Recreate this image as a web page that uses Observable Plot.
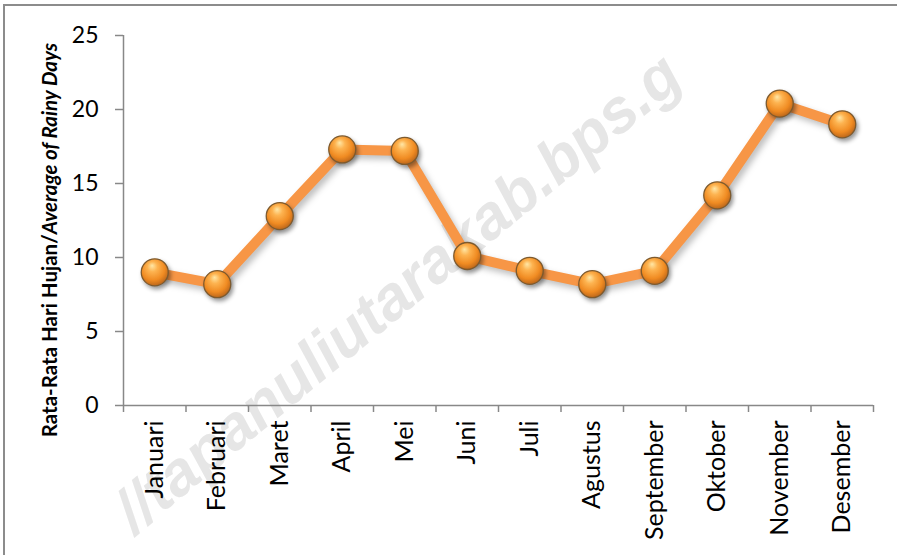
<!DOCTYPE html>
<html>
<head>
<meta charset="utf-8">
<script src="https://cdn.jsdelivr.net/npm/d3@7"></script>
<script src="https://cdn.jsdelivr.net/npm/@observablehq/plot@0.6"></script>
<style>
  html, body { margin: 0; padding: 0; background: #fff; }
  #wrap { position: relative; width: 897px; height: 555px; overflow: hidden; background: #fff; }
  #wm { position: absolute; left: 0; top: 0; }
  #border { position: absolute; left: 3px; top: 4px; width: 920px; height: 620px;
            border-top: 2px solid #8c8c8c; border-left: 2px solid #8c8c8c; box-sizing: border-box; }
  #chart { position: absolute; left: 0; top: 0; }
  .ln path { filter: drop-shadow(3px 4px 3px rgba(0,0,0,0.25)); }
  .balls { filter: drop-shadow(2px 3px 2px rgba(0,0,0,0.40)); }
</style>
</head>
<body>
<div id="wrap">
  <svg id="wm" width="897" height="555">
    <text transform="translate(400,296) rotate(-39.5)" text-anchor="middle" dominant-baseline="middle"
          font-family="'Liberation Sans', Arial, sans-serif" font-weight="bold" font-style="italic"
          font-size="62" fill="#e6e6e6">//tapanuliutarakab.bps.g</text>
  </svg>
  <div id="border"></div>
  <div id="chart"></div>
</div>
<script>
const months = ["Januari", "Februari", "Maret", "April", "Mei", "Juni", "Juli",
                "Agustus", "September", "Oktober", "November", "Desember"];
const values = [9.0, 8.2, 12.8, 17.3, 17.2, 10.1, 9.1, 8.2, 9.1, 14.2, 20.4, 19.0];
const yTicks = [0, 5, 10, 15, 20, 25];
const yTitleMain = "Rata-Rata Hari Hujan/";
const yTitleItalic = "Average of Rainy Days";

const data = months.map((m, i) => ({month: m, idx: i + 0.5, value: values[i]}));
const boundaries = d3.range(months.length + 1);

const axisGray = "#888888";

const plot = Plot.plot({
  width: 897,
  height: 555,
  marginLeft: 123,
  marginRight: 24,
  marginTop: 35,
  marginBottom: 150,
  style: {background: "transparent", fontFamily: "Lato, 'Open Sans', sans-serif", color: "#000", overflow: "visible"},
  x: {type: "linear", domain: [0, months.length], axis: null},
  y: {domain: [0, 25], axis: null},
  marks: [
    Plot.axisX(boundaries, {tickSize: 7, tickFormat: () => "", stroke: axisGray, strokeWidth: 1.5, label: null}),
    Plot.axisX(data.map(d => d.idx), {tickSize: 0, tickPadding: 15, tickRotate: -90,
      tickFormat: v => months[Math.floor(v)], fontSize: 25, fill: "#000", label: null}),
    Plot.axisY(yTicks, {tickSize: 8, tickPadding: 17, fontSize: 23, stroke: axisGray, strokeWidth: 1.5,
      fill: "#000", label: null}),
    Plot.ruleX([0], {stroke: axisGray, strokeWidth: 1.5}),
    Plot.ruleY([0], {stroke: axisGray, strokeWidth: 1.5}),
    Plot.line(data, {x: "idx", y: "value", stroke: "#F79646", strokeWidth: 10, className: "ln"}),
    Plot.dot(data, {x: "idx", y: "value", r: 13.5, fill: "url(#ball)", stroke: "#7d5a2e",
      strokeWidth: 1.3, className: "balls"})
  ]
});

const svg = d3.select(plot);
const defs = svg.insert("defs", ":first-child");
const grad = defs.append("radialGradient").attr("id", "ball")
  .attr("cx", "45%").attr("cy", "40%").attr("r", "62%").attr("fx", "40%").attr("fy", "25%");
grad.append("stop").attr("offset", "0%").attr("stop-color", "#FFE7A6");
grad.append("stop").attr("offset", "30%").attr("stop-color", "#FDB350");
grad.append("stop").attr("offset", "70%").attr("stop-color", "#F08B22");
grad.append("stop").attr("offset", "100%").attr("stop-color", "#B8641A");

const title = svg.append("text")
  .attr("transform", "translate(57,240) rotate(-90)")
  .attr("text-anchor", "middle")
  .style("font-family", "Lato, 'Open Sans', sans-serif")
  .style("font-weight", "bold")
  .style("font-size", "20.5px")
  .attr("fill", "#000");
title.append("tspan").text(yTitleMain);
title.append("tspan").style("font-style", "italic").text(yTitleItalic);

document.getElementById("chart").appendChild(plot);
</script>
</body>
</html>
